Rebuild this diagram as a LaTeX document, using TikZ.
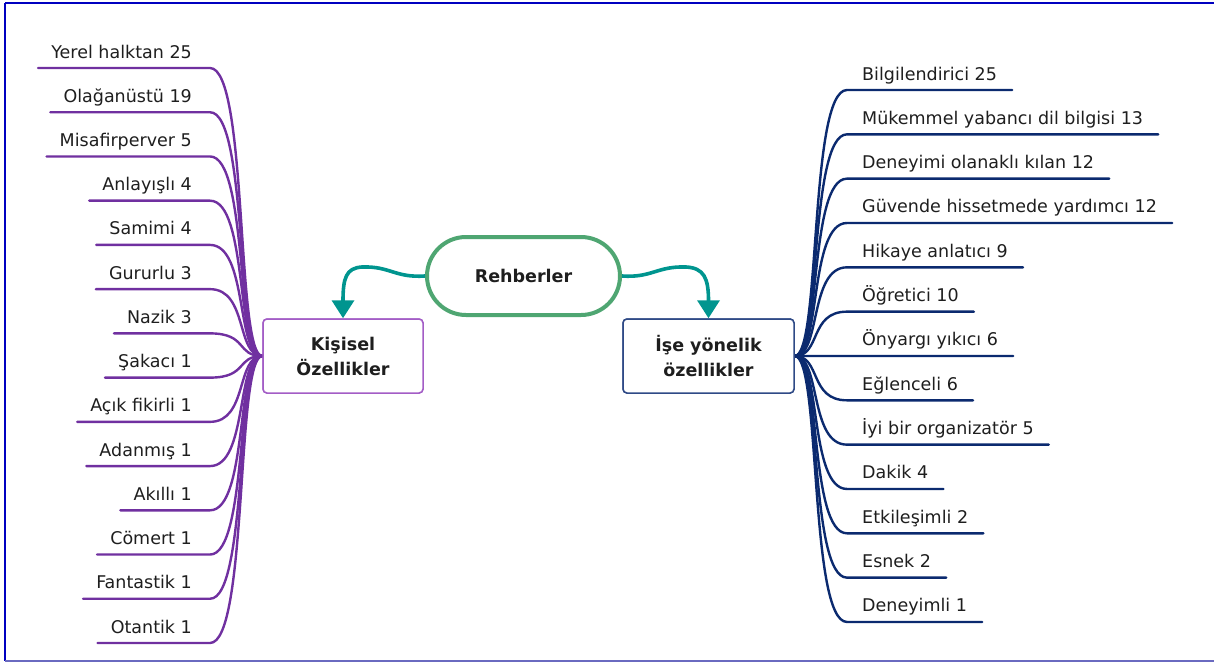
\documentclass[tikz,border=0pt]{standalone}
\usepackage{fontspec}
\setmainfont{DejaVu Sans}
\usetikzlibrary{arrows.meta,calc}
\definecolor{purp}{HTML}{7030A0}
\definecolor{purpbox}{HTML}{A35DC6}
\definecolor{navy}{HTML}{0B2A6F}
\definecolor{navybox}{HTML}{2F4A86}
\definecolor{tealc}{HTML}{00958F}
\definecolor{grn}{HTML}{4FA672}
\definecolor{txt}{HTML}{1E1E1E}
\definecolor{frameA}{HTML}{0000C0}
\definecolor{frameB}{HTML}{6A6AC0}
\begin{document}
\begin{tikzpicture}[x=1pt,y=-1pt,
  lab/.style={inner sep=0pt, font=\fontsize{17.5}{21}\selectfont, text=txt},
  lbranch/.style={draw=purp, line width=2.4pt, line cap=round},
  rbranch/.style={draw=navy, line width=2.4pt, line cap=round},
  catbox/.style={draw, line width=1.5pt, rounded corners=4pt, fill=white, inner sep=0pt,
    minimum height=74pt, align=center, text=txt,
    font=\bfseries\fontsize{17.5}{25}\selectfont},
  rootnode/.style={draw=grn, line width=4pt, rounded corners=39pt, fill=white, inner sep=0pt,
    minimum width=193pt, minimum height=78pt, text=txt,
    font=\bfseries\fontsize{17.5}{21}\selectfont},
  linkarrow/.style={draw=tealc, line width=3.6pt, -{Triangle[width=22pt,length=18pt]}}
]
\useasboundingbox (0,0) rectangle (1214,664);
% frame
\draw[frameA, line width=2pt] (5,3) -- (5,661);
\draw[frameA, line width=2pt] (5,3) -- (1214,3);
\draw[frameB, line width=2pt] (5,661) -- (1214,661);

% central nodes
\node[rootnode] (reh) at (523.5,276) {Rehberler};
\node[catbox, draw=purpbox, minimum width=160pt] (kis) at (343,356) {Kişisel\\Özellikler};
\node[catbox, draw=navybox, minimum width=171pt] (ise) at (708.5,356) {İşe yönelik\\özellikler};

% left branches
\foreach \t [count=\i from 0] in {Yerel halktan 25, Olağanüstü 19, Misafirperver 5, Anlayışlı 4, Samimi 4, Gururlu 3, Nazik 3, Şakacı 1, Açık fikirli 1, Adanmış 1, Akıllı 1, Cömert 1, Fantastik 1, Otantik 1}{
  \pgfmathsetmacro\yy{68+44.23*\i}
  \node[lab, anchor=base east] (L\i) at (192,\yy-10) {\t};
  \draw[lbranch] (kis.west) .. controls (236,356) and (248,\yy) .. (210,\yy) -- ($(L\i.base west)+(-13,10)$);
}

% right branches
\foreach \t [count=\i from 0] in {Bilgilendirici 25, Mükemmel yabancı dil bilgisi 13, Deneyimi olanaklı kılan 12, Güvende hissetmede yardımcı 12, Hikaye anlatıcı 9, Öğretici 10, Önyargı yıkıcı 6, Eğlenceli 6, İyi bir organizatör 5, Dakik 4, Etkileşimli 2, Esnek 2, Deneyimli 1}{
  \pgfmathsetmacro\yy{90+44.33*\i}
  \node[lab, anchor=base west] (R\i) at (862,\yy-10) {\t};
  \draw[rbranch] (ise.east) .. controls (821,356) and (809,\yy) .. (847,\yy) -- ($(R\i.base east)+(15,10)$);
}

% boxes redrawn on top of branch ends
\node[catbox, draw=purpbox, minimum width=160pt] at (343,356) {Kişisel\\Özellikler};
\node[catbox, draw=navybox, minimum width=171pt] at (708.5,356) {İşe yönelik\\özellikler};

% arrows from root
\draw[linkarrow] (reh.west) .. controls (395,278) and (390,266) .. (362,267) .. controls (346,268) and (343,278) .. (kis.north);
\draw[linkarrow] (reh.east) .. controls (652,278) and (657,266) .. (686,267) .. controls (704,268) and (708.5,278) .. (ise.north);
\end{tikzpicture}
\end{document}
